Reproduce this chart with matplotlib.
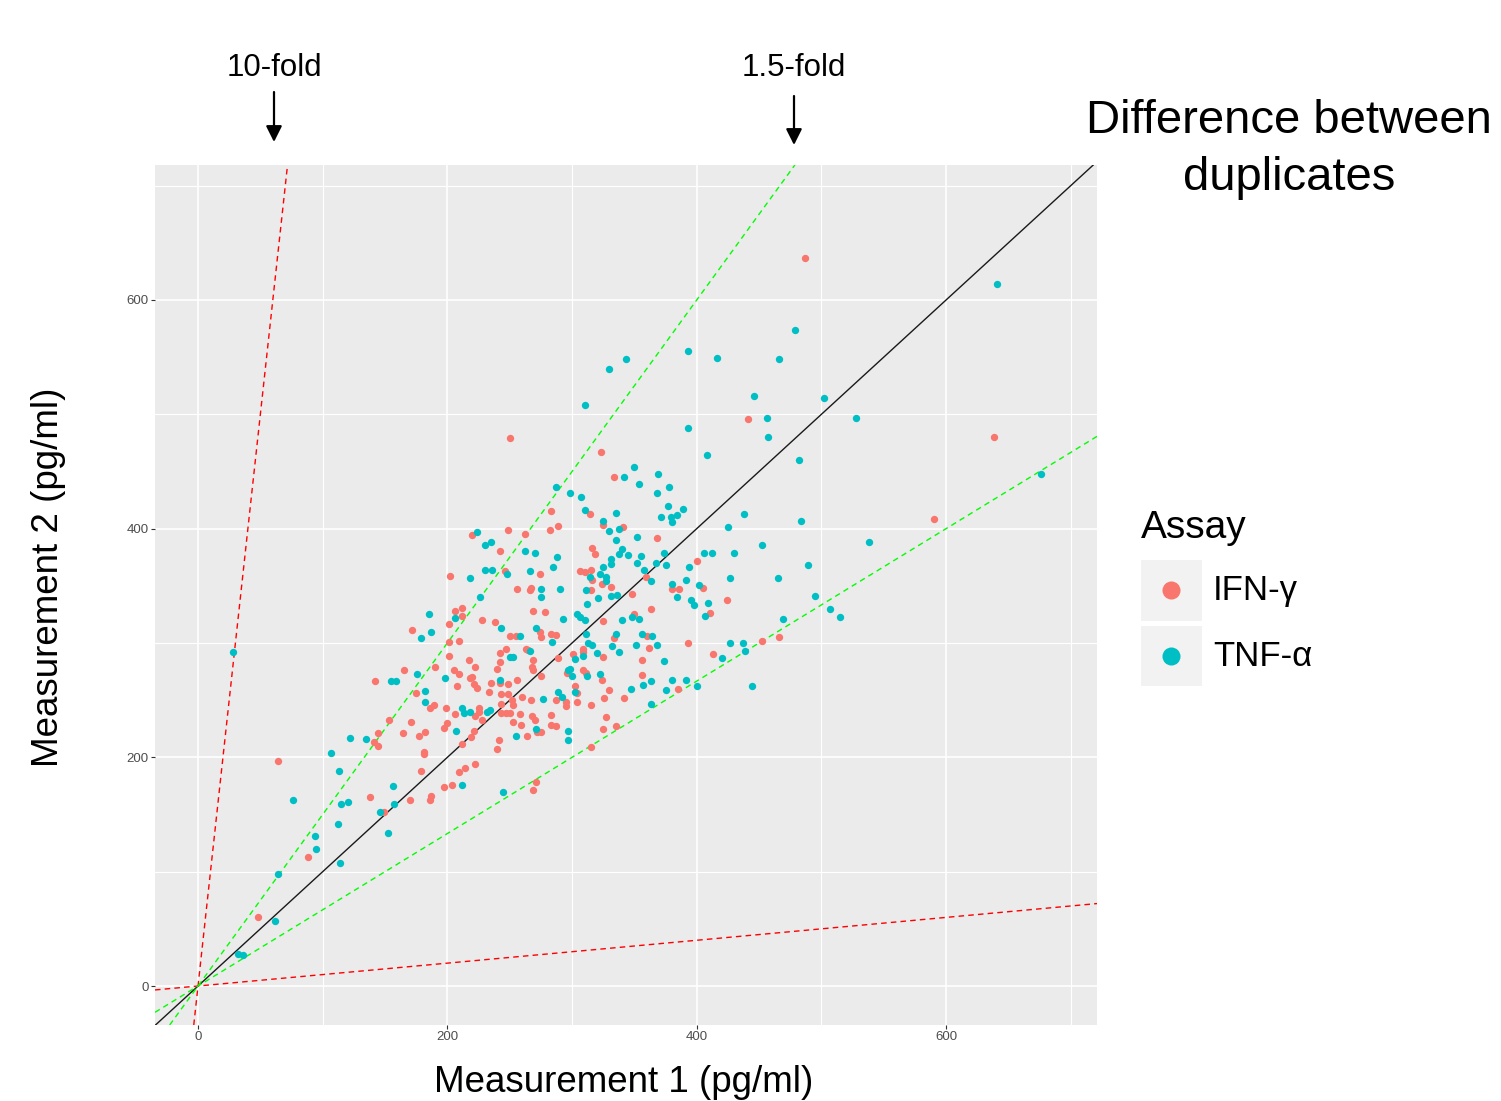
import matplotlib
matplotlib.use('Agg')
import matplotlib.pyplot as plt
from matplotlib.patches import Rectangle
from matplotlib.lines import Line2D

plt.rcParams['font.family'] = ['Liberation Sans', 'DejaVu Sans']

# ---------------- data (pg/ml) ----------------
series_names = ['IFN-\u03b3', 'TNF-\u03b1']
series_colors = ['#F8766D', '#00BFC4']

ifn_x = [220, 242, 202, 206, 212, 212, 228, 238, 201, 172, 201, 209, 201, 217, 190, 222, 165, 205, 209, 218,
         220, 142, 208, 221, 224, 235, 175, 233, 186, 189, 199, 206, 225, 225, 222, 228, 153, 171, 200, 197,
         164, 182, 177, 144, 141, 144, 221, 219, 212, 181, 181, 64, 179, 209, 214, 222, 197, 204, 138, 170,
         187, 186, 149, 88, 48,
         250, 323, 334, 314, 283, 325, 289, 282, 249, 262, 316, 318, 246, 274, 306, 310, 315, 316, 324, 331,
         315, 256, 266, 267, 269, 278, 325, 250, 255, 274, 275, 283, 287, 334, 309, 309, 301, 325, 289, 265,
         263, 247, 242, 269, 268, 269, 275, 242, 240, 296, 309, 311, 324, 302, 304, 304, 295, 295, 287, 267,
         249, 252, 253, 260, 256, 242, 249, 243, 243, 247, 250, 243, 258, 268, 270, 283, 315, 326, 330, 327,
         335, 325, 283, 287, 259, 253, 272, 275, 264, 315, 241, 240, 271, 269,
         487, 441,
         341, 368, 400, 359, 405, 380, 386, 348, 424, 363, 411, 350, 360, 362, 393, 452, 466, 413, 356, 356,
         342, 385,
         638, 590]
ifn_y = [394, 380, 359, 328, 331, 324, 320, 318, 317, 311, 301, 302, 289, 285, 279, 279, 276, 276, 273, 269,
         270, 267, 262, 264, 261, 265, 256, 257, 243, 246, 243, 238, 243, 240, 236, 233, 233, 231, 230, 226,
         221, 222, 219, 221, 213, 210, 223, 218, 212, 205, 203, 197, 188, 187, 191, 194, 174, 176, 165, 163,
         166, 163, 152, 113, 60,
         479, 467, 445, 413, 415, 403, 402, 399, 399, 395, 383, 378, 363, 360, 363, 362, 364, 355, 352, 349,
         346, 347, 346, 348, 328, 327, 319, 306, 306, 310, 305, 308, 307, 304, 295, 292, 290, 288, 287, 294,
         295, 295, 291, 285, 279, 276, 271, 283, 277, 274, 276, 274, 268, 262, 256, 248, 248, 245, 250, 250,
         255, 250, 246, 253, 268, 265, 264, 255, 247, 239, 239, 239, 238, 236, 233, 237, 246, 252, 259, 235,
         227, 225, 228, 227, 228, 231, 222, 222, 219, 209, 215, 207, 178, 171,
         637, 496,
         401, 392, 372, 358, 348, 347, 347, 343, 338, 330, 326, 325, 306, 296, 300, 302, 305, 290, 285, 272,
         252, 260,
         480, 408]

tnf_x = [224, 230, 235, 230, 236, 218, 226, 185, 206, 243, 187, 179, 28, 176, 198, 155, 159, 182, 182, 212,
         213, 218, 232, 234, 207, 122, 135, 107, 113, 212, 156, 76, 115, 120, 157, 146, 112, 152, 94, 95,
         114, 64, 62, 32, 36,
         287, 298, 307, 310, 335, 325, 330, 338, 262, 270, 335, 288, 285, 331, 331, 338, 325, 248, 266, 314,
         322, 327, 327, 336, 331, 321, 311, 312, 275, 275, 290, 304, 306, 310, 293, 258, 271, 284, 311, 335,
         313, 316, 309, 302, 320, 332, 338, 266, 250, 253, 298, 297, 300, 312, 322, 302, 289, 292, 277, 242,
         271, 255, 297, 297, 245,
         479, 393, 416, 466, 343, 330, 310, 446, 502, 456, 528, 393, 457,
         408, 482, 350, 369, 342, 354, 368, 378, 377, 389, 371, 379, 384, 380, 438, 484, 425, 352, 452, 406,
         412, 430, 340, 345, 355, 374, 352, 367, 375, 394, 489, 358, 363, 427, 465, 380, 391, 402, 384, 495,
         395, 398, 409, 407, 469, 340, 348, 354, 356, 364, 368, 351, 427, 437, 439, 420, 374, 357, 363, 380,
         391, 347, 375, 400, 444, 363,
         641, 676, 538, 507, 515]
tnf_y = [397, 386, 388, 364, 364, 357, 340, 325, 322, 313, 310, 304, 292, 273, 269, 267, 267, 258, 248, 243,
         239, 240, 240, 241, 223, 217, 216, 204, 188, 176, 175, 163, 159, 161, 159, 152, 142, 134, 131, 120,
         108, 98, 57, 28, 27,
         436, 431, 428, 416, 414, 407, 398, 400, 380, 379, 390, 375, 366, 373, 369, 378, 366, 360, 363, 358,
         360, 358, 354, 342, 341, 339, 346, 334, 347, 340, 347, 325, 323, 320, 321, 306, 313, 301, 308, 308,
         300, 298, 289, 286, 291, 297, 292, 293, 288, 288, 277, 276, 271, 271, 273, 257, 257, 253, 251, 268,
         225, 219, 223, 215, 170,
         574, 555, 549, 548, 548, 540, 508, 516, 514, 497, 497, 488, 480,
         464, 460, 454, 448, 445, 439, 431, 436, 420, 417, 410, 410, 412, 406, 413, 407, 401, 393, 386, 379,
         379, 379, 382, 377, 376, 379, 370, 370, 368, 366, 368, 364, 354, 357, 357, 352, 355, 351, 340, 341,
         338, 333, 335, 324, 321, 320, 323, 321, 308, 306, 298, 298, 300, 300, 293, 287, 284, 263, 267, 268,
         268, 260, 259, 262, 262, 247,
         614, 448, 388, 330, 323]

fold_labels = ['10-fold', '1.5-fold']
fold_ratios = [10, 1.5]
fold_colors = ['#FF0000', '#00FF00']

x_ticks = [0, 200, 400, 600]
y_ticks = [0, 200, 400, 600]
minor_ticks = [100, 300, 500, 700]

# ---------------- figure ----------------
W, H = 1501, 1101
fig = plt.figure(figsize=(W / 100, H / 100), dpi=100)


def fx(px):
    return px / W


def fy(py):
    return 1 - py / H


ax = fig.add_axes([fx(155), fy(1025), fx(1097) - fx(155), fy(165) - fy(1025)])
ax.set_facecolor('#EBEBEB')
ax.set_xlim(-34.5, 721)
ax.set_ylim(-34.1, 718)
for s in ax.spines.values():
    s.set_visible(False)

ax.set_xticks(x_ticks)
ax.set_yticks(y_ticks)
ax.set_xticks(minor_ticks, minor=True)
ax.set_yticks(minor_ticks, minor=True)
ax.grid(which='major', color='white', lw=1.2)
ax.grid(which='minor', color='white', lw=0.8)
ax.set_axisbelow(True)
ax.tick_params(which='major', length=3, width=0.8, color='#333333',
               labelsize=9.5, labelcolor='#4D4D4D', pad=1.5)
ax.tick_params(which='minor', length=0)

# fold-difference reference lines
ax.axline((0, 0), slope=1, color='#1A1A1A', lw=1.0, zorder=2)
for r, c in zip(fold_ratios, fold_colors):
    ax.axline((0, 0), slope=r, color=c, lw=1.0, ls=(0, (4, 3)), zorder=2)
    ax.axline((0, 0), slope=1 / r, color=c, lw=1.0, ls=(0, (4, 3)), zorder=2)

# points
ax.scatter(ifn_x, ifn_y, s=28, color=series_colors[0], lw=0, zorder=3)
ax.scatter(tnf_x, tnf_y, s=28, color=series_colors[1], lw=0, zorder=3)

# axis titles
fig.text(fx(624), fy(1092), 'Measurement 1 (pg/ml)', fontsize=26.5, ha='center', va='baseline')
fig.text(fx(49), fy(577), 'Measurement 2 (pg/ml)', fontsize=26.5, ha='center', va='center', rotation=90)

# fold annotations with arrows
label_px = [274, 794]
arrow_top = [92, 96]
arrow_tip = [142, 145]
for lab, px, a0, a1 in zip(fold_labels, label_px, arrow_top, arrow_tip):
    fig.text(fx(px), fy(76), lab, fontsize=22.5, ha='center', va='baseline')
    ax.annotate('', xy=(fx(px), fy(a1)), xytext=(fx(px), fy(a0)),
                xycoords='figure fraction', textcoords='figure fraction',
                arrowprops=dict(arrowstyle='-|>', lw=1.6, color='black',
                                mutation_scale=24, shrinkA=0, shrinkB=0),
                annotation_clip=False)

fig.text(fx(1289), fy(133), 'Difference between', fontsize=34, ha='center', va='baseline')
fig.text(fx(1289), fy(190), 'duplicates', fontsize=34, ha='center', va='baseline')

# legend (ggplot style)
fig.text(fx(1141), fy(538), 'Assay', fontsize=28, ha='left', va='baseline')
key_tops = [560, 625.5]
label_base = [600, 665.5]
for name, col, kt, lb in zip(series_names, series_colors, key_tops, label_base):
    fig.add_artist(Rectangle((fx(1141), fy(kt + 60.5)), fx(1201.5) - fx(1141), fy(kt) - fy(kt + 60.5),
                             transform=fig.transFigure, facecolor='#F2F2F2', edgecolor='none'))
    fig.add_artist(Line2D([fx(1171)], [fy(kt + 30)], marker='o', ms=13, color=col,
                          markeredgewidth=0, linestyle='none', transform=fig.transFigure))
    fig.text(fx(1213), fy(lb), name, fontsize=25, ha='left', va='baseline')

fig.savefig('out.png', dpi=100)
